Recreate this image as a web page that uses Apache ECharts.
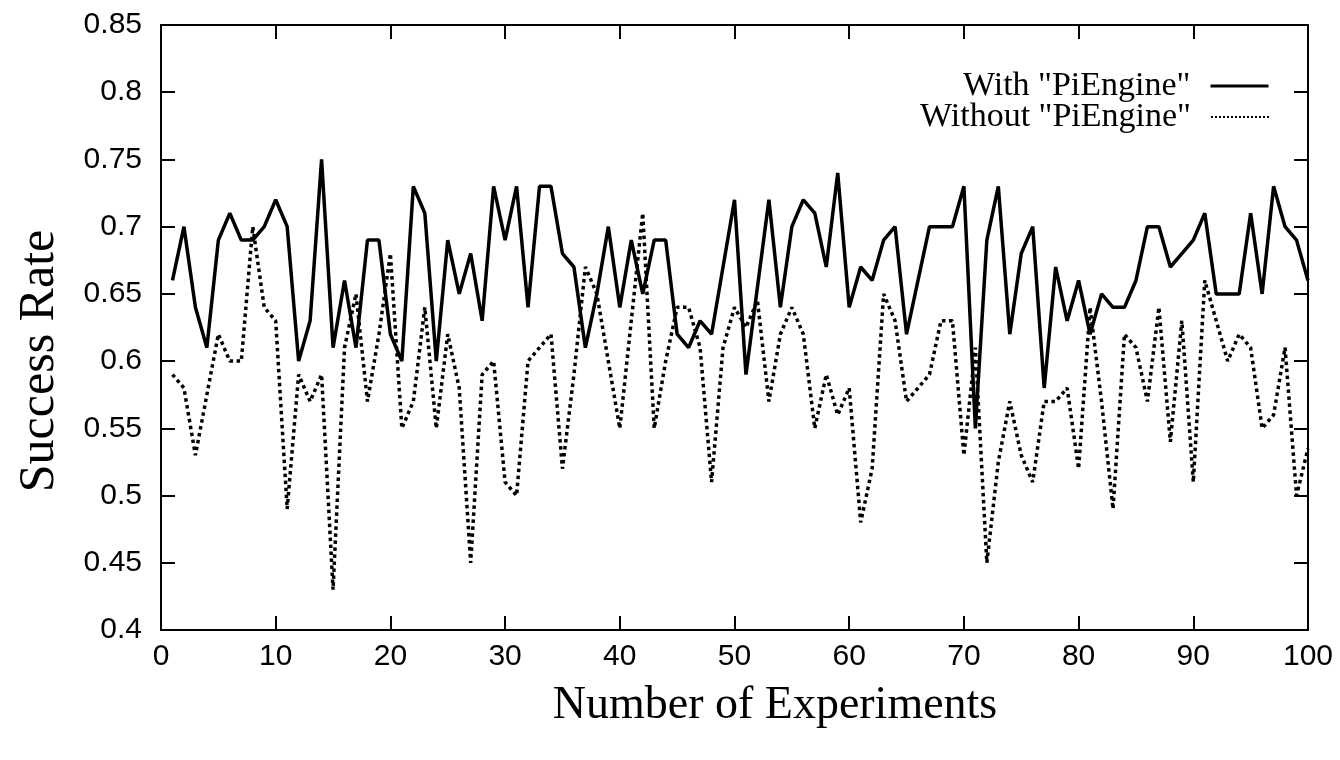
<!DOCTYPE html>
<html>
<head>
<meta charset="utf-8">
<script src="https://cdn.jsdelivr.net/npm/echarts@6/dist/echarts.min.js"></script>
<style>
  html, body { margin: 0; padding: 0; background: #fff; }
  #chart { width: 1340px; height: 760px; }
</style>
</head>
<body>
<div id="chart"></div>
<script>
// Experiment numbers 1..100 (x positions)
const experiments = [
  1,2,3,4,5,6,7,8,9,10,11,12,13,14,15,16,17,18,19,20,
  21,22,23,24,25,26,27,28,29,30,31,32,33,34,35,36,37,38,39,40,
  41,42,43,44,45,46,47,48,49,50,51,52,53,54,55,56,57,58,59,60,
  61,62,63,64,65,66,67,68,69,70,71,72,73,74,75,76,77,78,79,80,
  81,82,83,84,85,86,87,88,89,90,91,92,93,94,95,96,97,98,99,100
];

const withPiEngine = [
  0.66,0.70,0.64,0.61,0.69,0.71,0.69,0.69,0.70,0.72,
  0.70,0.60,0.63,0.75,0.61,0.66,0.61,0.69,0.69,0.62,
  0.60,0.73,0.71,0.60,0.69,0.65,0.68,0.63,0.73,0.69,
  0.73,0.64,0.73,0.73,0.68,0.67,0.61,0.65,0.70,0.64,
  0.69,0.65,0.69,0.69,0.62,0.61,0.63,0.62,0.67,0.72,
  0.59,0.655,0.72,0.64,0.70,0.72,0.71,0.67,0.74,0.64,
  0.67,0.66,0.69,0.70,0.62,0.66,0.70,0.70,0.70,0.73,
  0.55,0.69,0.73,0.62,0.68,0.70,0.58,0.67,0.63,0.66,
  0.62,0.65,0.64,0.64,0.66,0.70,0.70,0.67,0.68,0.69,
  0.71,0.65,0.65,0.65,0.71,0.65,0.73,0.70,0.69,0.66
];

const withoutPiEngine = [
  0.59,0.58,0.53,0.575,0.62,0.60,0.60,0.70,0.64,0.63,
  0.49,0.59,0.57,0.59,0.43,0.61,0.65,0.57,0.62,0.68,
  0.55,0.57,0.64,0.55,0.62,0.58,0.45,0.59,0.60,0.51,
  0.50,0.60,0.61,0.62,0.52,0.59,0.67,0.65,0.60,0.55,
  0.63,0.71,0.55,0.60,0.64,0.64,0.61,0.51,0.61,0.64,
  0.625,0.645,0.57,0.62,0.64,0.62,0.55,0.59,0.56,0.58,
  0.48,0.52,0.65,0.63,0.57,0.58,0.59,0.63,0.63,0.53,
  0.61,0.45,0.525,0.57,0.53,0.51,0.57,0.57,0.58,0.52,
  0.64,0.57,0.49,0.62,0.61,0.57,0.64,0.54,0.63,0.51,
  0.66,0.63,0.60,0.62,0.61,0.55,0.56,0.61,0.50,0.535
];

const seriesNames = ['With "PiEngine"', 'Without "PiEngine"'];
const axisTitles = { x: 'Number of Experiments', y: 'Success Rate' };

const pair = (vals) => vals.map((v, i) => [experiments[i], v]);

const chart = echarts.init(document.getElementById('chart'), null, { renderer: 'canvas' });

const sansFont = '"Liberation Sans", Arial, sans-serif';
const serifFont = '"Liberation Serif", "Times New Roman", serif';

const axisLine = () => ({ show: true, onZero: false, lineStyle: { color: '#000', width: 2 } });
const axisTick = () => ({ show: true, inside: true, length: 14, lineStyle: { color: '#000', width: 2 } });

const legendItem = (name, top, lineWidth) => ({
  data: [name],
  orient: 'horizontal',
  right: 70,
  top: top,
  padding: 0,
  align: 'right',
  itemWidth: 58,
  itemHeight: 14,
  itemStyle: { opacity: 0 },
  lineStyle: { width: lineWidth },
  textStyle: { fontFamily: serifFont, fontSize: 34, color: '#000', padding: [0, 15, 0, 0] }
});

chart.setOption({
  animation: false,
  backgroundColor: '#fff',
  grid: { left: 161, right: 32, top: 25, bottom: 130, containLabel: false },
  legend: [
    legendItem(seriesNames[0], 69, 3),
    legendItem(seriesNames[1], 100, 2)
  ],
  xAxis: [
    {
      type: 'value', min: 0, max: 100, interval: 10, position: 'bottom',
      axisLine: axisLine(), axisTick: axisTick(), splitLine: { show: false },
      axisLabel: { color: '#000', fontFamily: sansFont, fontSize: 30, margin: 12 }
    },
    {
      type: 'value', min: 0, max: 100, interval: 10, position: 'top',
      axisLine: axisLine(), axisTick: axisTick(), splitLine: { show: false },
      axisLabel: { show: false }
    }
  ],
  yAxis: [
    {
      type: 'value', min: 0.4, max: 0.85, interval: 0.05, position: 'left',
      axisLine: axisLine(), axisTick: axisTick(), splitLine: { show: false },
      axisLabel: { color: '#000', fontFamily: sansFont, fontSize: 30, margin: 19 }
    },
    {
      type: 'value', min: 0.4, max: 0.85, interval: 0.05, position: 'right',
      axisLine: axisLine(), axisTick: axisTick(), splitLine: { show: false },
      axisLabel: { show: false }
    }
  ],
  graphic: [
    {
      type: 'text', x: 40, y: 361, rotation: Math.PI / 2,
      style: { text: axisTitles.y, font: '50px ' + serifFont, fill: '#000', align: 'center', verticalAlign: 'middle' }
    },
    {
      type: 'text', x: 775, y: 706,
      style: { text: axisTitles.x, font: '46px ' + serifFont, fill: '#000', align: 'center', verticalAlign: 'middle' }
    }
  ],
  series: [
    {
      name: seriesNames[0], type: 'line', data: pair(withPiEngine),
      symbol: 'none', xAxisIndex: 0, yAxisIndex: 0,
      lineStyle: { color: '#000', width: 3.5, type: 'solid' },
      itemStyle: { color: '#000' }
    },
    {
      name: seriesNames[1], type: 'line', data: pair(withoutPiEngine),
      symbol: 'none', xAxisIndex: 0, yAxisIndex: 0,
      lineStyle: { color: '#000', width: 3.5, type: 'dotted', cap: 'butt' },
      itemStyle: { color: '#000' }
    }
  ]
});
</script>
</body>
</html>
